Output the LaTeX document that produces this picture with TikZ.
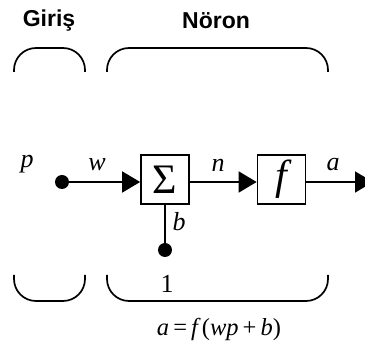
\documentclass[tikz,border=0pt]{standalone}
\usepackage{fontspec}
\setmainfont{Liberation Serif}
\setsansfont{Liberation Sans}
\usetikzlibrary{arrows.meta}
\begin{document}
\begin{tikzpicture}[x=1pt,y=-1pt, line width=1.7pt,
 lbl/.style={font=\fontsize{26}{26}\selectfont\itshape, inner sep=0},
 upl/.style={font=\fontsize{26}{26}\selectfont, inner sep=0},
 title/.style={font=\fontsize{23}{23}\selectfont\sffamily\bfseries, inner sep=0},
 blk/.style={draw, minimum width=48pt, minimum height=49pt, inner sep=0},
 dotn/.style={circle, fill, inner sep=0, minimum size=14pt},
 arr/.style={-{Triangle[length=18pt,width=21pt]}},
 brk/.style={rounded corners=22pt}]
\clip (0,0) rectangle (365,347);
% titles
\node[title] (giris) at (49,21) {Giriş};
\node[title] (noron) at (216,21) {Nöron};
% brackets
\draw[brk] (14,72) -- (14,48) -- (85,48) -- (85,72);
\draw[brk] (107,72) -- (107,48) -- (328,48) -- (328,72);
\draw[brk] (14,275) -- (14,301) -- (85,301) -- (85,275);
\draw[brk] (107,275) -- (107,301) -- (328,301) -- (328,275);
% blocks
\node[blk] (sum) at (165,179.5) {\fontsize{42}{42}\selectfont Σ};
\node[blk] (f) at (281.5,179.5) {\fontsize{42}{42}\selectfont\itshape f};
% dots
\node[dotn] (in) at (62,182) {};
\node[dotn] (bias) at (165,250) {};
\coordinate (out) at (373,182);
% connectors
\draw[arr] (in.center) -- (in -| sum.west);
\draw[arr] (sum.east |- in) -- (in -| f.west);
\draw[arr] (f.east |- in) -- (out);
\draw (sum.south) -- (bias.center);
% labels
\node[lbl] (lp) at (27,164) {p};
\node[lbl] (lw) at (97,165) {w};
\node[lbl] (ln) at (218,165) {n};
\node[lbl] (la) at (333,165) {a};
\node[lbl] (lb) at (179,222) {b};
\node[upl] (one) at (167,284) {1};
\node[upl, font=\fontsize{24.5}{25}\selectfont] (eq) at (219,329) {\textit{a}\,=\,\textit{f}\kern1pt(\textit{wp}\,+\,\textit{b})};
\end{tikzpicture}
\end{document}
